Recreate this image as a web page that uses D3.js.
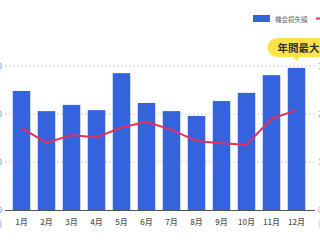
<!DOCTYPE html>
<html><head><meta charset="utf-8">
<script src="https://cdn.jsdelivr.net/npm/d3@7"></script>
<style>html,body{margin:0;padding:0;background:#fff;overflow:hidden}svg{display:block}</style>
</head><body>
<svg id="c" width="320" height="240"></svg>
<script>
const months = ["1月","2月","3月","4月","5月","6月","7月","8月","9月","10月","11月","12月"];
const lossValues = [248, 206, 219, 208, 285, 223, 206, 196, 227, 244, 281, 296];
const rateValues = [17.1, 14.0, 15.6, 15.1, 17.2, 18.4, 16.7, 14.4, 13.9, 13.6, 19.0, 20.8];
const leftTicks = [0, 100, 200, 300];
const rightTicks = [0, 10, 20, 30];
const legendLabels = ["機会損失額", "損失率"];
const calloutText = "年間最大！";

const svg = d3.select("#c");
const font = "'Noto Sans CJK JP', 'Noto Sans', sans-serif";
const blue = "#3563de", red = "#e6305a";

const x = d3.scaleBand().domain(months).range([9, 309]).paddingInner(0.3).paddingOuter(0.15);
const yL = d3.scaleLinear().domain([0, 300]).range([210, 66]);
const yR = d3.scaleLinear().domain([0, 30]).range([210, 66]);

// gridlines
svg.append("g").selectAll("line").data(leftTicks.slice(1)).join("line")
  .attr("x1", 5).attr("x2", 315).attr("y1", d => yL(d)).attr("y2", d => yL(d))
  .attr("stroke", "#cfcfcf").attr("stroke-width", 1).attr("stroke-dasharray", "2,2");

// bars
svg.append("g").selectAll("rect").data(lossValues).join("rect")
  .attr("x", (d, i) => x(months[i])).attr("width", x.bandwidth())
  .attr("y", d => yL(d)).attr("height", d => yL(0) - yL(d))
  .attr("fill", blue);

// baseline
svg.append("line").attr("x1", 5).attr("x2", 315).attr("y1", 210.5).attr("y2", 210.5)
  .attr("stroke", "#555").attr("stroke-width", 1.2);

// line series
const line = d3.line().x((d, i) => x(months[i]) + x.bandwidth() / 2).y(d => yR(d));
svg.append("path").datum(rateValues).attr("d", line)
  .attr("fill", "none").attr("stroke", red).attr("stroke-width", 2).attr("stroke-linejoin", "round");

// x axis labels
const xAxis = d3.axisBottom(x).tickSize(0).tickPadding(9);
const gx = svg.append("g").attr("transform", "translate(0,210)").call(xAxis);
gx.select(".domain").remove();
gx.selectAll("text").attr("font-family", font).attr("font-size", 8).attr("fill", "#555").attr("font-weight", 500);

// left axis (mostly off-canvas)
const gl = svg.append("g").attr("transform", "translate(2,0)")
  .call(d3.axisLeft(yL).tickValues(leftTicks).tickSize(0).tickPadding(0));
gl.select(".domain").remove();
gl.selectAll("text").attr("font-family", font).attr("font-size", 8).attr("fill", "#5b7fe0");
svg.append("text").attr("x", 2).attr("y", 226).attr("text-anchor", "end")
  .attr("font-family", font).attr("font-size", 8).attr("fill", "#5b7fe0").text("(万円)");

// right axis (mostly off-canvas)
const gr = svg.append("g").attr("transform", "translate(318,0)")
  .call(d3.axisRight(yR).tickValues(rightTicks).tickFormat(d => d + "%").tickSize(0).tickPadding(0));
gr.select(".domain").remove();
gr.selectAll("text").attr("font-family", font).attr("font-size", 8).attr("fill", "#ef7f98");
svg.append("text").attr("x", 318).attr("y", 226).attr("text-anchor", "start")
  .attr("font-family", font).attr("font-size", 8).attr("fill", "#ef9aac").text("(%)");

// legend
svg.append("rect").attr("x", 253).attr("y", 15).attr("width", 17).attr("height", 7).attr("fill", blue);
svg.append("text").attr("x", 275).attr("y", 21.5).attr("font-family", font).attr("font-size", 6.5)
  .attr("fill", "#666").text(legendLabels[0]);
svg.append("line").attr("x1", 316).attr("x2", 332).attr("y1", 18.5).attr("y2", 18.5)
  .attr("stroke", red).attr("stroke-width", 2);
svg.append("text").attr("x", 336).attr("y", 21.5).attr("font-family", font).attr("font-size", 6.5)
  .attr("fill", "#666").text(legendLabels[1]);

// callout over max bar
const maxI = lossValues.indexOf(d3.max(lossValues));
const cx = x(months[maxI]) + x.bandwidth() / 2;
const cg = svg.append("g");
cg.append("rect").attr("x", cx - 29).attr("y", 38).attr("width", 70).attr("height", 19).attr("rx", 9.5)
  .attr("fill", "#fde24c");
cg.append("path").attr("d", `M${cx - 4},56 L${cx},61 L${cx + 4},56 Z`).attr("fill", "#fde24c");
cg.append("text").attr("x", cx - 19).attr("y", 51.5).attr("font-family", font).attr("font-size", 10.5)
  .attr("font-weight", 700).attr("fill", "#333").text(calloutText);
</script>
</body></html>
